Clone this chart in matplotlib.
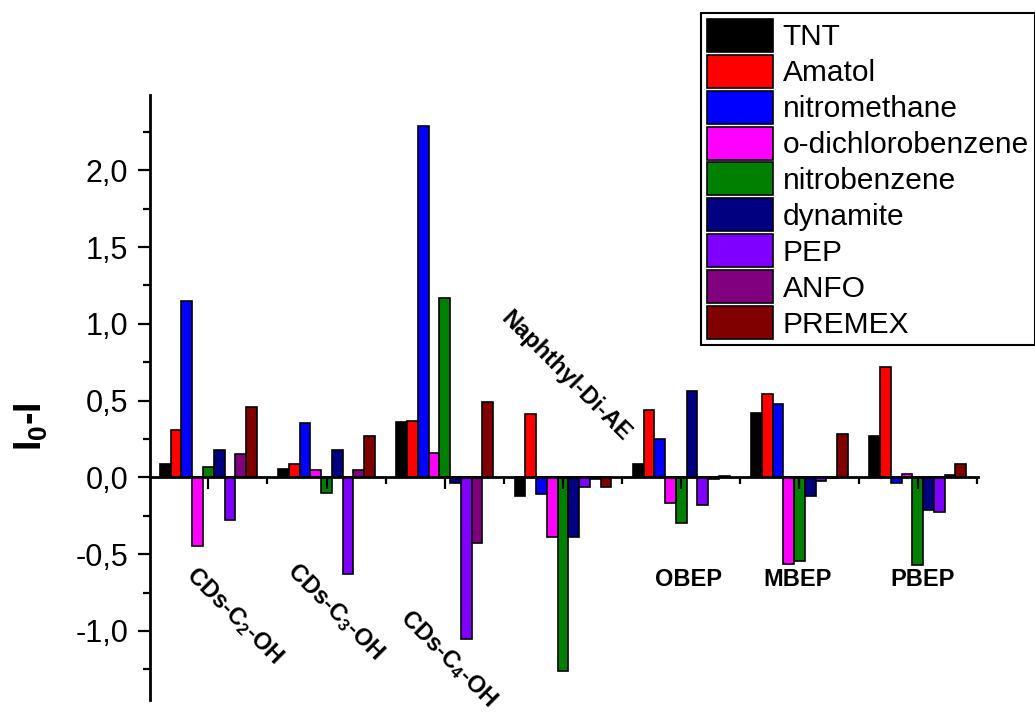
import matplotlib
matplotlib.use("Agg")
import matplotlib.pyplot as plt
import numpy as np
from matplotlib.ticker import MultipleLocator, FixedLocator, FuncFormatter

plt.rcParams['font.family'] = ['Liberation Sans', 'DejaVu Sans']
plt.rcParams['mathtext.fontset'] = 'custom'
plt.rcParams['mathtext.rm'] = 'Liberation Sans:bold'
plt.rcParams['mathtext.it'] = 'Liberation Sans:bold'
plt.rcParams['mathtext.bf'] = 'Liberation Sans:bold'

# Sensors (groups along x) and analytes (bars within each group)
sensors = ['CDs-C$_2$-OH', 'CDs-C$_3$-OH', 'CDs-C$_4$-OH', 'Naphthyl-Di-AE', 'OBEP', 'MBEP', 'PBEP']
analytes = ['TNT', 'Amatol', 'nitromethane', 'o-dichlorobenzene', 'nitrobenzene',
            'dynamite', 'PEP', 'ANFO', 'PREMEX']
colors = ['#000000', '#FF0000', '#0000FF', '#FF00FF', '#008000',
          '#000080', '#8000FF', '#800080', '#800000']

# I0 - I response, one list per analyte (values for the 7 sensors)
tnt = [0.09, 0.055, 0.36, -0.12, 0.085, 0.42, 0.27]
amatol = [0.31, 0.09, 0.37, 0.41, 0.44, 0.54, 0.72]
nitromethane = [1.15, 0.355, 2.29, -0.11, 0.25, 0.48, -0.04]
o_dichlorobenzene = [-0.45, 0.045, 0.16, -0.39, -0.17, -0.565, 0.02]
nitrobenzene = [0.07, -0.10, 1.17, -1.26, -0.30, -0.545, -0.57]
dynamite = [0.175, 0.175, -0.035, -0.39, 0.56, -0.12, -0.21]
pep = [-0.28, -0.63, -1.05, -0.065, -0.18, -0.025, -0.225]
anfo = [0.155, 0.045, -0.43, -0.01, -0.01, -0.005, 0.015]
premex = [0.46, 0.27, 0.49, -0.06, 0.01, 0.28, 0.085]

series = [tnt, amatol, nitromethane, o_dichlorobenzene, nitrobenzene,
          dynamite, pep, anfo, premex]

fig = plt.figure(figsize=(10.35, 7.13), dpi=100)
ax = fig.add_axes([0.1449, 0.0182, 0.800, 0.8486])

x = np.arange(len(sensors))
width = 0.091
for i, (vals, name, c) in enumerate(zip(series, analytes, colors)):
    ax.bar(x + (i - 4) * width, vals, width, color=c, edgecolor='black',
           linewidth=1.2, label=name)

ax.set_xlim(-0.494, 6.51)
ax.set_ylim(-1.45, 2.49)

# axis styling: left spine plus a zero line carrying the x ticks
for side in ['top', 'right']:
    ax.spines[side].set_visible(False)
ax.spines['bottom'].set_position(('data', 0))
ax.spines['left'].set_linewidth(2)
ax.spines['bottom'].set_linewidth(2)

ax.xaxis.set_major_locator(FixedLocator(x))
ax.xaxis.set_minor_locator(FixedLocator(x + 0.5))
ax.set_xticklabels([])
ax.yaxis.set_major_locator(MultipleLocator(0.5))
ax.yaxis.set_minor_locator(MultipleLocator(0.25))
ax.yaxis.set_major_formatter(FuncFormatter(lambda v, p: f'{v:.1f}'.replace('.', ',')))
ax.tick_params(axis='both', which='major', direction='out', length=8.5, width=1.6,
               labelsize=22, pad=7)
ax.tick_params(axis='both', which='minor', direction='out', length=5, width=1.6)

fig.text(31 / 1035, 1 - 427 / 713, 'I$_0$-I', rotation=90, ha='center', va='center',
         fontsize=27, fontweight='bold')

# group names under / over the bars
label_pos = [(0.22, -0.90, -45), (1.07, -0.875, -45), (2.03, -1.18, -45),
             (3.02, 0.66, -45), (4.06, -0.665, 0), (4.98, -0.665, 0), (6.04, -0.665, 0)]
for name, (lx, ly, rot) in zip(sensors, label_pos):
    ax.text(lx, ly, name, rotation=rot, ha='center', va='center',
            fontsize=17, fontweight='bold')

leg = fig.legend(loc='upper right', bbox_to_anchor=(1.0, 0.982), borderaxespad=0,
                 fontsize=21.5, handlelength=2.2, handleheight=1.32, labelspacing=0.1,
                 handletextpad=0.33, borderpad=0.2, fancybox=False, framealpha=1,
                 edgecolor='black')
leg.get_frame().set_linewidth(1.5)

fig.savefig('out.png', dpi=100)
